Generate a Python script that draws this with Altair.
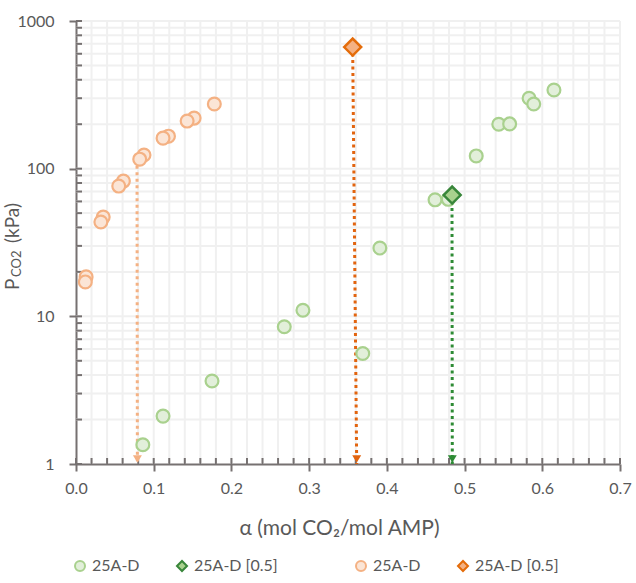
import altair as alt
import pandas as pd

# ---------------- data ----------------
green_x = [0.086, 0.112, 0.175, 0.268, 0.292, 0.369, 0.391, 0.462, 0.479, 0.515, 0.544, 0.558, 0.583, 0.589, 0.615]
green_y = [1.35, 2.11, 3.65, 8.5, 11.0, 5.6, 29.0, 61.5, 62.0, 122, 200, 201, 300, 274, 341]
green_ref_x = [0.484]
green_ref_y = [66.3]
orange_x = [0.013, 0.012, 0.035, 0.032, 0.061, 0.055, 0.0875, 0.082, 0.119, 0.112, 0.152, 0.143, 0.178]
orange_y = [18.5, 17.1, 47, 43.5, 82.4, 76.2, 123.7, 116, 166, 161, 220, 210, 274]
orange_ref_x = [0.356]
orange_ref_y = [666]

NB = "\u00a0"
ZW = "\u200b"
series_names = ["25A-D", "25A-D [0.5]" + NB * 10 + ZW, "25A-D" + ZW, "25A-D [0.5]"]
series_fill = ["#e2efda", "#a9d18e", "#fbe5d6", "#f4b183"]
series_stroke = ["#a9d18e", "#38863a", "#f4b183", "#e46c0a"]
series_shape = ["circle", "diamond", "circle", "diamond"]

# drop lines (from point to the x axis)
drop_green_x = [0.4838, 0.4842]
drop_green_y = [66.3, 1]
drop_orange_x = [0.356, 0.3612]
drop_orange_y = [666, 1]
drop_light_x = [0.0785, 0.079]
drop_light_y = [116, 1]

x_major = [0.0, 0.1, 0.2, 0.3, 0.4, 0.5, 0.6, 0.7]
x_minor = [round(i * 0.02, 2) for i in range(36)]
y_major = [1, 10, 100, 1000]
y_minor = [k * 10 ** e for e in range(3) for k in range(1, 10)] + [1000]

W, H = 544, 443
FONT = "Lato"
TXT = "#595959"
AX = "#767171"

xs = alt.Scale(domain=[0, 0.7], nice=False, zero=False)
ys = alt.Scale(type="log", domain=[1, 1000], nice=False)

AXX = alt.Axis(
    values=x_major, format=".1f", title="α (mol CO₂/mol AMP)",
    grid=False, domainColor=AX, domainWidth=2, tickColor=AX, tickWidth=2, tickSize=7,
    labelFont=FONT, labelFontSize=16, labelColor=TXT, labelPadding=9, labelFlush=False,
    titleFont=FONT, titleFontSize=21, titleFontWeight="normal", titleColor=TXT,
    titleX=263, titleY=70, titleBaseline="alphabetic", titleAlign="center",
)
AXY = alt.Axis(
    values=y_major, format="d", title=None,
    grid=False, domainColor=AX, domainWidth=2, tickColor=AX, tickWidth=2, tickSize=7,
    labelFont=FONT, labelFontSize=16, labelColor=TXT, labelPadding=15, labelFlush=False,
)

def X(f):
    return alt.X(f, scale=xs, axis=AXX)

def Y(f):
    return alt.Y(f, scale=ys, axis=AXY)

rows = []
for x, y in zip(green_x, green_y):
    rows.append({"x": x, "y": y, "series": series_names[0]})
for x, y in zip(green_ref_x, green_ref_y):
    rows.append({"x": x, "y": y, "series": series_names[1]})
for x, y in zip(orange_x, orange_y):
    rows.append({"x": x, "y": y, "series": series_names[2]})
for x, y in zip(orange_ref_x, orange_ref_y):
    rows.append({"x": x, "y": y, "series": series_names[3]})
pts = pd.DataFrame(rows)
circ = pts[pts["series"].isin([series_names[0], series_names[2]])]
diam = pts[pts["series"].isin([series_names[1], series_names[3]])]

# ---------------- grid ----------------
xgrid = alt.Chart(pd.DataFrame({"v": x_minor[1:]})).mark_rule(
    color="#f0f0f0", strokeWidth=2
).encode(x=X("v:Q"))
ygrid = alt.Chart(pd.DataFrame({"v": y_minor[1:]})).mark_rule(
    color="#f0f0f0", strokeWidth=2
).encode(y=Y("v:Q"))

# inward ticks
xticks_in = alt.Chart(pd.DataFrame({"v": x_minor})).mark_rule(
    color=AX, strokeWidth=2
).encode(x=X("v:Q"), y=alt.value(H - 6), y2=alt.value(H))
yticks_in = alt.Chart(pd.DataFrame({"v": y_minor})).mark_rule(
    color=AX, strokeWidth=2
).encode(y=Y("v:Q"), x=alt.value(0), x2=alt.value(6))

# ---------------- drop lines ----------------
def drop(xv, yv, color):
    d = pd.DataFrame({"x": xv, "y": yv})
    line = alt.Chart(d).mark_line(color=color, strokeWidth=3, strokeDash=[3, 3.5]).encode(
        x=X("x:Q"), y=Y("y:Q")
    )
    tip = alt.Chart(d.iloc[[1]]).mark_point(
        shape="triangle-down", filled=True, color=color, opacity=1, size=80, yOffset=-5
    ).encode(x=X("x:Q"), y=Y("y:Q"))
    return line, tip

gl, gt = drop(drop_green_x, drop_green_y, "#2e8b35")
ol, ot = drop(drop_orange_x, drop_orange_y, "#e2640f")
ll, lt = drop(drop_light_x, drop_light_y, "#f4b183")

# ---------------- points ----------------
LEG = alt.Legend(
    title=None, orient="none", legendX=-4, legendY=537, direction="horizontal", columns=4,
    columnPadding=33, labelFont=FONT, labelFontSize=16, labelColor=TXT, labelLimit=300,
    symbolSize=100, symbolStrokeWidth=2, labelOffset=4,
)

def enc(ch):
    return ch.encode(
        x=X("x:Q"), y=Y("y:Q"),
        fill=alt.Fill("series:N", scale=alt.Scale(domain=series_names, range=series_fill), legend=LEG),
        stroke=alt.Stroke("series:N", scale=alt.Scale(domain=series_names, range=series_stroke), legend=LEG),
        shape=alt.Shape("series:N", scale=alt.Scale(domain=series_names, range=series_shape), legend=LEG),
    )

circles = enc(alt.Chart(circ).mark_point(filled=True, opacity=1, size=165, strokeWidth=2.2))
diamonds = enc(alt.Chart(diam).mark_point(filled=True, opacity=1, size=290, strokeWidth=2.5))

# ---------------- y title with subscript ----------------
one = pd.DataFrame({"t": [0]})
tP = alt.Chart(one).mark_text(text="P", angle=270, align="left", baseline="alphabetic",
                              font=FONT, fontSize=19, color=TXT).encode(
    x=alt.value(-57), y=alt.value(269))
tCO2 = alt.Chart(one).mark_text(text="CO2", angle=270, align="left", baseline="alphabetic",
                                font=FONT, fontSize=13, color=TXT).encode(
    x=alt.value(-55), y=alt.value(256))
tkPa = alt.Chart(one).mark_text(text="(kPa)", angle=270, align="left", baseline="alphabetic",
                                font=FONT, fontSize=19, color=TXT).encode(
    x=alt.value(-57), y=alt.value(222))

chart = alt.layer(
    xgrid, ygrid, xticks_in, yticks_in, ll, gl, ol, circles, diamonds, lt, gt, ot, tP, tCO2, tkPa
).properties(
    width=W, height=H,
    autosize=alt.AutoSizeParams(type="none"),
    padding={"left": 76, "top": 21, "right": 16, "bottom": 119},
).configure_view(stroke=None)

chart.save("out.html", embed_options={"renderer": "svg", "actions": False})
